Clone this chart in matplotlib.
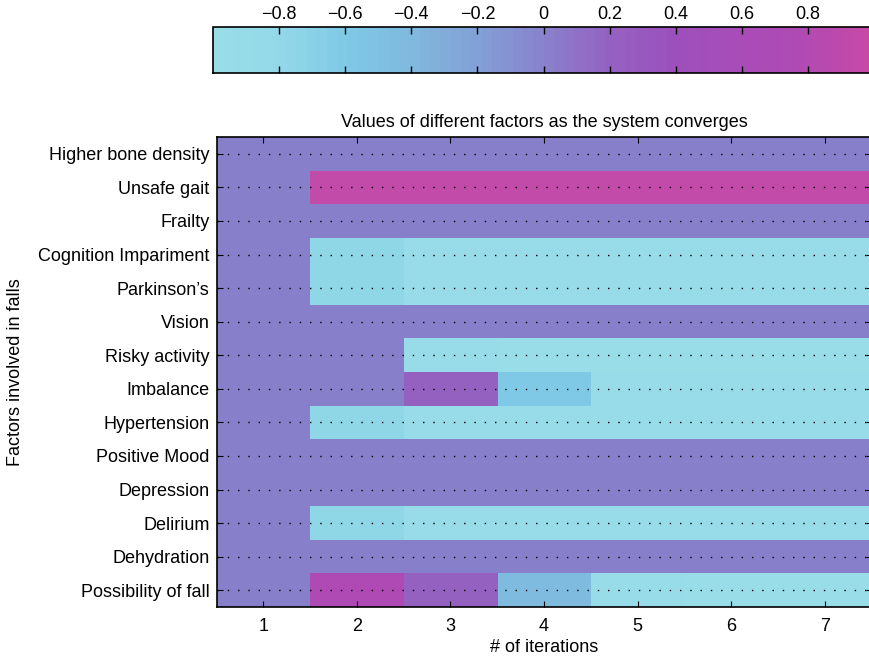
import numpy as np
import matplotlib
matplotlib.use("Agg")
import matplotlib.pyplot as plt
from matplotlib.colors import LinearSegmentedColormap

plt.rcParams['font.family'] = ['Liberation Sans', 'DejaVu Sans']

factors = ["Higher bone density", "Unsafe gait", "Frailty", "Cognition Impariment",
           "Parkinson\u2019s", "Vision", "Risky activity", "Imbalance", "Hypertension",
           "Positive Mood", "Depression", "Delirium", "Dehydration", "Possibility of fall"]
iterations = [1, 2, 3, 4, 5, 6, 7]

# factor values at each iteration (rows follow `factors`)
higher_bone_density = [0, 0, 0, 0, 0, 0, 0]
unsafe_gait = [0, 0.96, 0.96, 0.96, 0.96, 0.96, 0.96]
frailty = [0, 0, 0, 0, 0, 0, 0]
cognition = [0, -0.78, -0.95, -0.95, -0.95, -0.95, -0.95]
parkinsons = [0, -0.78, -0.95, -0.95, -0.95, -0.95, -0.95]
vision = [0, 0, 0, 0, 0, 0, 0]
risky_activity = [0, 0, -0.96, -0.98, -0.98, -0.98, -0.98]
imbalance = [0, 0, 0.2, -0.62, -0.96, -0.96, -0.96]
hypertension = [0, -0.78, -0.95, -0.95, -0.95, -0.95, -0.95]
positive_mood = [0, 0, 0, 0, 0, 0, 0]
depression = [0, 0, 0, 0, 0, 0, 0]
delirium = [0, -0.78, -0.95, -0.95, -0.95, -0.95, -0.95]
dehydration = [0, 0, 0, 0, 0, 0, 0]
possibility_of_fall = [0, 0.76, 0.2, -0.42, -0.95, -0.97, -0.97]

values = np.array([higher_bone_density, unsafe_gait, frailty, cognition, parkinsons,
                   vision, risky_activity, imbalance, hypertension, positive_mood,
                   depression, delirium, dehydration, possibility_of_fall])

# muted cyan -> lavender -> magenta map
stops = [(0.0, "#98dde8"), (0.1, "#92d8e8"), (0.2, "#7ec8e6"), (0.3, "#80b8de"),
         (0.4, "#82a0d6"), (0.5, "#8882cc"), (0.6, "#9462c2"), (0.7, "#9c50bc"),
         (0.8, "#a84cb8"), (0.9, "#b04ab4"), (1.0, "#c64aa6")]
cmap = LinearSegmentedColormap.from_list("fallmap", stops, N=64)

FS = 13
fig = plt.figure(figsize=(8.69, 6.56), dpi=100)
W, H = 869.0, 656.0
ax = fig.add_axes([216.5 / W, 1 - 607 / H, 655 / W, 470 / H])
cax = fig.add_axes([213 / W, 1 - 73 / H, 661 / W, 46 / H])

n_rows = len(factors)
im = ax.imshow(values, cmap=cmap, vmin=-1, vmax=1, aspect='auto', interpolation='nearest',
               extent=(0.5, len(iterations) + 0.5, n_rows + 0.5, 0.5))
ax.set_xticks(iterations)
ax.set_yticks(np.arange(1, n_rows + 1))
ax.set_yticklabels(factors)
ax.tick_params(axis='both', direction='in', labelsize=FS, length=4, width=0.8,
               top=True, right=True, pad=5)
ax.tick_params(axis='x', pad=8)
ax.yaxis.grid(True, linestyle=(0, (1, 6.4)), color='black', linewidth=1.0)
ax.set_axisbelow(False)
for s in ax.spines.values():
    s.set_linewidth(1.2)
ax.set_title("Values of different factors as the system converges", fontsize=FS, pad=7)
ax.set_xlabel("# of iterations", fontsize=FS, labelpad=3)
ax.set_ylabel("Factors involved in falls", fontsize=FS, labelpad=10)

cb = fig.colorbar(im, cax=cax, orientation='horizontal',
                  ticks=[-0.8, -0.6, -0.4, -0.2, 0, 0.2, 0.4, 0.6, 0.8])
cb.ax.xaxis.set_ticks_position('top')
cb.ax.set_xticklabels(["\u22120.8", "\u22120.6", "\u22120.4", "\u22120.2", "0",
                       "0.2", "0.4", "0.6", "0.8"])
cb.ax.tick_params(direction='in', labelsize=FS, length=5, width=1, bottom=True, top=True,
                  pad=3)
cb.outline.set_linewidth(1.2)

fig.savefig("out.png", dpi=100)
